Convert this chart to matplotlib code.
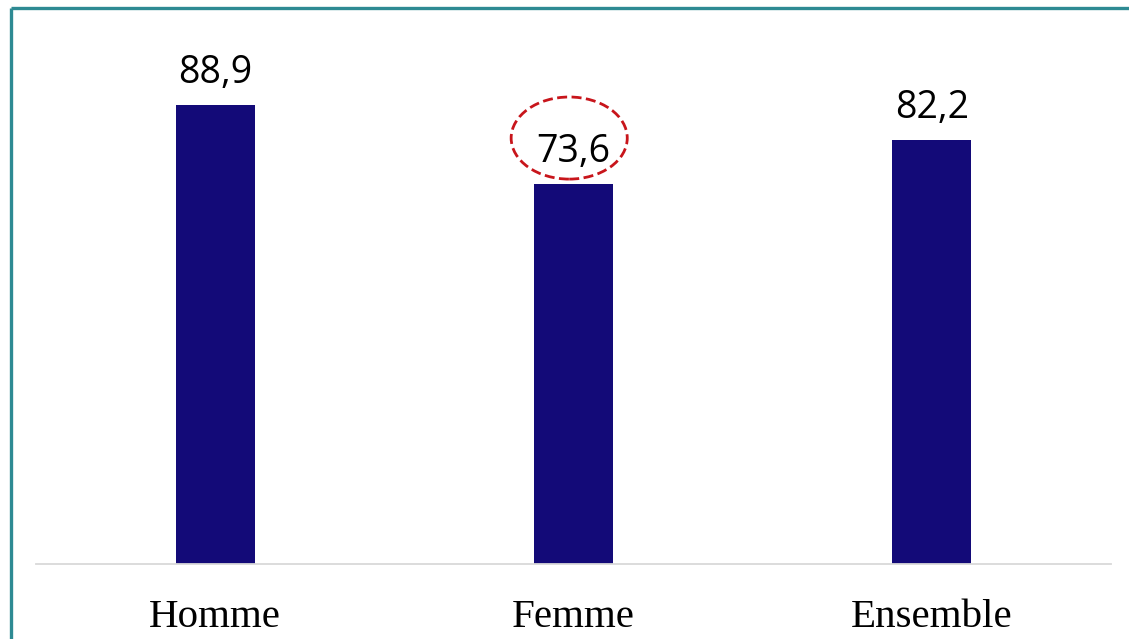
import matplotlib
matplotlib.use("Agg")
import matplotlib.pyplot as plt
from matplotlib.patches import Ellipse
from matplotlib.lines import Line2D

categories = ["Homme", "Femme", "Ensemble"]
values = [88.9, 73.6, 82.2]
value_labels = ["88,9", "73,6", "82,2"]
highlight = "Femme"

W, H = 1129, 639
fig = plt.figure(figsize=(W / 100, H / 100), dpi=100)
fig.patch.set_facecolor("white")

# frame around the figure (open on the right and bottom)
fig.add_artist(Line2D([11 / W, 11 / W], [0, 1 - 8 / H], color="#2E8A93", lw=2.4,
                      transform=fig.transFigure, solid_capstyle="butt"))
fig.add_artist(Line2D([11 / W, 1], [1 - 8 / H, 1 - 8 / H], color="#2E8A93", lw=2.4,
                      transform=fig.transFigure, solid_capstyle="butt"))

left, right = 36, 1111
bottom_px, top_px = 564, 47.7
ax = fig.add_axes([left / W, 1 - bottom_px / H, (right - left) / W, (bottom_px - top_px) / H])

x = list(range(len(categories)))
ax.bar(x, values, width=0.22, color="#130A78", zorder=2)
ax.set_xlim(-0.5, len(categories) - 0.5)
ax.set_ylim(0, 100)

for s in ["top", "right", "left"]:
    ax.spines[s].set_visible(False)
ax.spines["bottom"].set_color("#D9D9D9")
ax.spines["bottom"].set_linewidth(1.3)
ax.set_yticks([])
ax.set_xticks(x)
ax.set_xticklabels(categories, fontfamily="Liberation Serif", fontsize=29.5)
ax.tick_params(axis="x", length=0, pad=25)

for xi, v, lab, cat in zip(x, values, value_labels, categories):
    ax.annotate(lab, (xi, v), xytext=(0, 15.8), textcoords="offset points",
                ha="center", va="baseline", fontsize=27, fontfamily="Open Sans",
                color="black")
    if cat == highlight:
        ax.add_patch(Ellipse((xi - 0.012, v + 8.9), 0.324, 15.9, fill=False,
                             edgecolor="#C8151B", lw=2.0, ls=(0, (3.6, 1.6)),
                             clip_on=False, zorder=3))

fig.savefig("out.png", dpi=100)
